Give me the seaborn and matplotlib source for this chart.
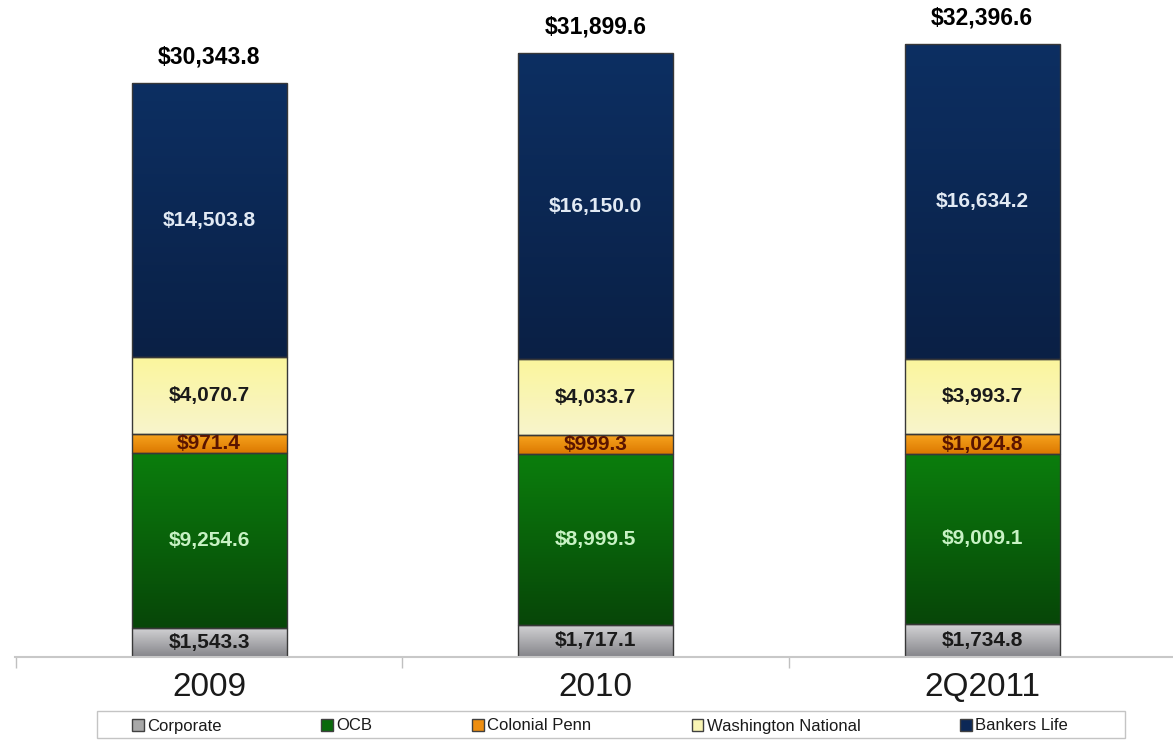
import numpy as np
import matplotlib
matplotlib.use("Agg")
import matplotlib.pyplot as plt
import seaborn as sns
from matplotlib.colors import LinearSegmentedColormap
from matplotlib.patches import Patch, Rectangle

# Segment values ($ millions), stacked bottom to top
categories = ["2009", "2010", "2Q2011"]
corporate = [1543.3, 1717.1, 1734.8]
ocb = [9254.6, 8999.5, 9009.1]
colonial_penn = [971.4, 999.3, 1024.8]
washington_national = [4070.7, 4033.7, 3993.7]
bankers_life = [14503.8, 16150.0, 16634.2]
totals = [30343.8, 31899.6, 32396.6]

series_names = ["Corporate", "OCB", "Colonial Penn", "Washington National", "Bankers Life"]
series_values = [corporate, ocb, colonial_penn, washington_national, bankers_life]

# (top colour, bottom colour, legend colour, value-label colour)
styles = {
    "Corporate": ("#d4d4d6", "#85858a", "#a8a8a8", "#1a1a1a"),
    "OCB": ("#0b7e0d", "#074608", "#0a6a0c", "#c8f2c4"),
    "Colonial Penn": ("#f7a41e", "#dc7800", "#ee8e10", "#5a1400"),
    "Washington National": ("#fbf69c", "#f8f4cc", "#f9f5b4", "#1a1a1a"),
    "Bankers Life": ("#0d2f62", "#0a2045", "#0c2856", "#e2eaf4"),
}

sns.set_theme(style="white")
plt.rcParams["font.family"] = "Liberation Sans"

W, H = 1173, 740
fig = plt.figure(figsize=(W / 100, H / 100), dpi=100)
fig.patch.set_facecolor("white")
ax = fig.add_axes([15 / W, 83 / H, 1158 / W, 657 / H])

bottom = np.zeros(len(categories))
grad = np.linspace(0, 1, 256).reshape(-1, 1)
for name, vals in zip(series_names, series_values):
    top_c, bot_c, base_c, txt_c = styles[name]
    n_before = len(ax.patches)
    sns.barplot(x=categories, y=vals, bottom=bottom.copy(), width=0.401,
                color=base_c, saturation=1, errorbar=None,
                edgecolor="#383838", linewidth=1.0, ax=ax)
    cmap = LinearSegmentedColormap.from_list(name, [bot_c, top_c])
    for patch in ax.patches[n_before:]:
        x0, y0 = patch.get_x(), patch.get_y()
        w, h = patch.get_width(), patch.get_height()
        im = ax.imshow(grad, cmap=cmap, origin="lower", aspect="auto",
                       extent=[x0, x0 + w, y0, y0 + h],
                       interpolation="bilinear", zorder=1)
        im.set_clip_path(patch)
        patch.set_facecolor("none")
        patch.set_zorder(2)
    for i, v in enumerate(vals):
        ax.text(i, bottom[i] + v / 2, f"${v:,.1f}", ha="center", va="center",
                fontsize=15, fontweight="bold", color=txt_c, zorder=3)
    bottom += np.array(vals)

for i, t in enumerate(totals):
    ax.annotate(f"${t:,.1f}", xy=(i, t), xytext=(0, 19), textcoords="offset points",
                ha="center", va="center", fontsize=16.5, fontweight="bold",
                color="black", zorder=3)

ax.set_xlim(-0.502, 2.494)
ax.set_ylim(0, 34725)
ax.set_yticks([])
ax.set_xlabel("")
ax.set_ylabel("")
for side in ["top", "left", "right"]:
    ax.spines[side].set_visible(False)
ax.spines["bottom"].set_color("#c8c8c8")
ax.spines["bottom"].set_linewidth(1.5)

ax.set_xticks([0, 1, 2])
ax.set_xticklabels(categories)
ax.set_xticks([-0.5, 0.5, 1.5], minor=True)
ax.tick_params(axis="x", which="major", length=0, pad=11, labelsize=24, labelcolor="#1a1a1a")
ax.tick_params(axis="x", which="minor", bottom=True, length=8, width=1,
               color="#c0c0c0", direction="out")

# Legend frame spans the full strip; entries are centred inside it
fig.add_artist(Rectangle((97 / W, 2 / H), 1028 / W, 27 / H, transform=fig.transFigure,
                         fill=False, edgecolor="#c4c4c4", linewidth=1.0))
handles = [Patch(facecolor=styles[n][2], edgecolor="#404040", linewidth=1.0)
           for n in series_names]
leg = fig.legend(handles, series_names, loc="center",
                 bbox_to_anchor=(600 / W, 14 / H),
                 ncol=5, frameon=False, columnspacing=6.0,
                 handlelength=0.7, handleheight=0.7,
                 handletextpad=0.2, borderpad=0.0, borderaxespad=0,
                 prop={"family": "Liberation Sans", "size": 12})
for txt in leg.get_texts():
    txt.set_color("#1a1a1a")

fig.savefig("out.png", dpi=100, facecolor="white")
